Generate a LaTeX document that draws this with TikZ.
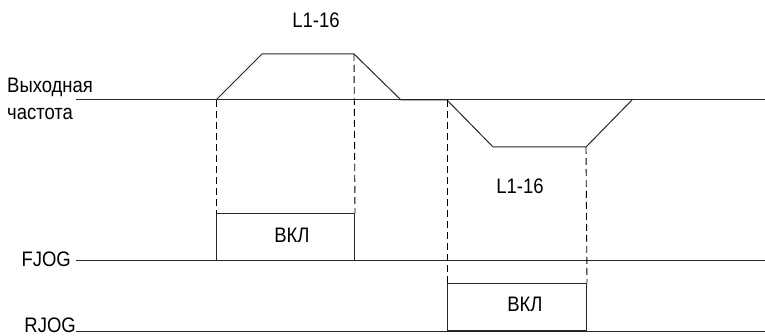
\documentclass[tikz,border=0pt]{standalone}
\usepackage{fontspec}
\setmainfont[FakeStretch=0.88]{Liberation Sans}
\begin{document}
\begin{tikzpicture}[x=1pt,y=-1pt,
  sig/.style={line width=1pt,black!85},
  guide/.style={line width=0.9pt,dash pattern=on 7pt off 4pt},
  lbl/.style={inner sep=0pt,font=\fontsize{21}{24}\selectfont},
  onbox/.style={draw,line width=1pt,black!85}]
\useasboundingbox (0,0) rectangle (765,336);
% output frequency
\coordinate (f0) at (76,100);
\coordinate (a1) at (216,100);
\coordinate (a2) at (262,54);
\coordinate (a3) at (354,54);
\coordinate (a4) at (401,100);
\coordinate (b1) at (447,100);
\coordinate (b2) at (493,147);
\coordinate (b3) at (586,147);
\coordinate (b4) at (632,100);
\coordinate (fE) at (765,100);
\draw[sig] (f0) -- (fE);
\draw[sig] (a1) -- (a2) -- (a3) -- (a4) -- (b1) -- (b2) -- (b3) -- (b4);
% FJOG
\coordinate (j0) at (76,261);
\coordinate (jE) at (765,261);
\draw[sig] (j0) -- (jE);
\node[onbox,minimum width=138pt,minimum height=47pt,anchor=south west,inner sep=0pt] (fon) at (216,261) {};
\node[lbl,anchor=base] (fonl) at (292,243) {ВКЛ};
% RJOG
\coordinate (r0) at (76,331);
\coordinate (rE) at (765,331);
\draw[sig] (r0) -- (rE);
\node[onbox,minimum width=139pt,minimum height=47pt,anchor=south west,inner sep=0pt] (ron) at (447,331) {};
\node[lbl,anchor=base] (ronl) at (525,312) {ВКЛ};
% dashed guides
\draw[guide] (a1) -- (fon.north west);
\draw[guide] (a3) -- (fon.north east);
\draw[guide] (b1) -- (ron.north west);
\draw[guide] (b3) -- (ron.north east);
% labels
\node[lbl,anchor=base] (t1) at (316,28) {L1-16};
\node[lbl,anchor=base] (t2) at (520,194) {L1-16};
\node[lbl,anchor=base west] (out1) at (7,93) {Выходная};
\node[lbl,anchor=base west] (out2) at (7,120) {частота};
\node[lbl,anchor=base east] (fj) at (71,267) {FJOG};
\node[lbl,anchor=base east] (rj) at (76,333) {RJOG};
\end{tikzpicture}
\end{document}
